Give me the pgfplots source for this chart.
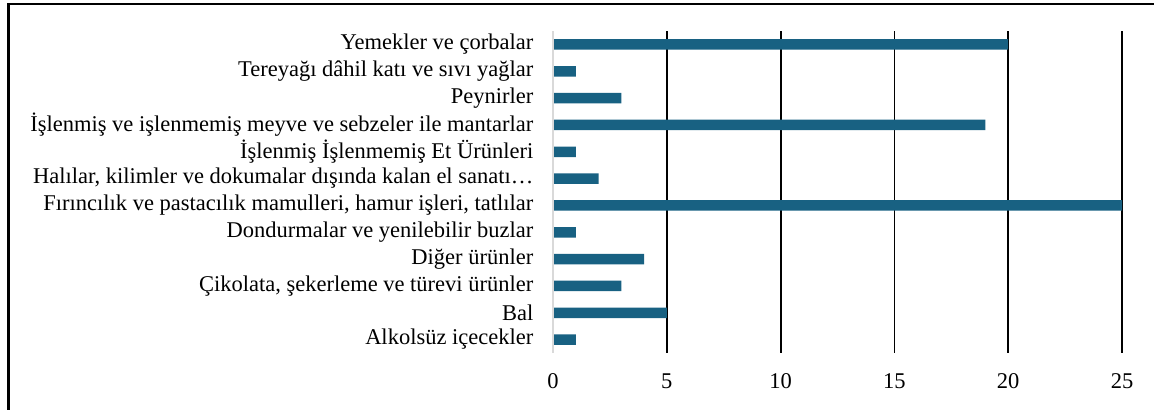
\documentclass[border=0pt]{standalone}
\usepackage{fontspec}
\setmainfont{Liberation Serif}
\usepackage{pgfplots}
\pgfplotsset{compat=1.18}
\definecolor{barblue}{RGB}{24,97,130}
\definecolor{axgray}{RGB}{217,217,217}
\begin{document}
\fontsize{22.5bp}{26bp}\selectfont
\begin{tikzpicture}
\useasboundingbox (0,0) rectangle (1154bp,410bp);
\draw[line width=2.6bp] (8.5bp,0) -- (8.5bp,406bp);
\draw[line width=1.4bp] (7.2bp,406bp) -- (1154bp,406bp);
\begin{axis}[
  at={(553bp,57bp)}, anchor=south west,
  scale only axis, width=569bp, height=322bp,
  xbar, bar width=10.5bp,
  xmin=0, xmax=25, ymin=-0.5, ymax=11.5,
  y dir=reverse,
  xtick={0,5,10,15,20,25},
  ytick={0,...,11},
  yticklabels={Yemekler ve çorbalar,
    Tereyağı dâhil katı ve sıvı yağlar,
    Peynirler,
    İşlenmiş ve işlenmemiş meyve ve sebzeler ile mantarlar,
    İşlenmiş İşlenmemiş Et Ürünleri,
    Halılar{,} kilimler ve dokumalar dışında kalan el sanatı…,
    Fırıncılık ve pastacılık mamulleri{,} hamur işleri{,} tatlılar,
    Dondurmalar ve yenilebilir buzlar,
    Diğer ürünler,
    Çikolata{,} şekerleme ve türevi ürünler,
    Bal,
    Alkolsüz içecekler},
  xmajorgrids, major grid style={black, line width=1.8bp},
  axis line style={draw=none},
  major tick length=0pt,
  tick label style={font=\fontsize{22.5bp}{26bp}\selectfont},
  /pgf/number format/assume math mode=true,
  xticklabel style={yshift=-13bp},
  yticklabel style={xshift=-12bp},
  clip=false,
]
\addplot[fill=barblue, draw=none] coordinates {
(20,0) (1,1) (3,2) (19,3) (1,4) (2,5) (25,6) (1,7) (4,8) (3,9) (5,10) (1,11)};
\draw[axgray, line width=1.3bp] (axis cs:0,-0.5) -- (axis cs:0,11.5);
\end{axis}
\end{tikzpicture}
\end{document}
